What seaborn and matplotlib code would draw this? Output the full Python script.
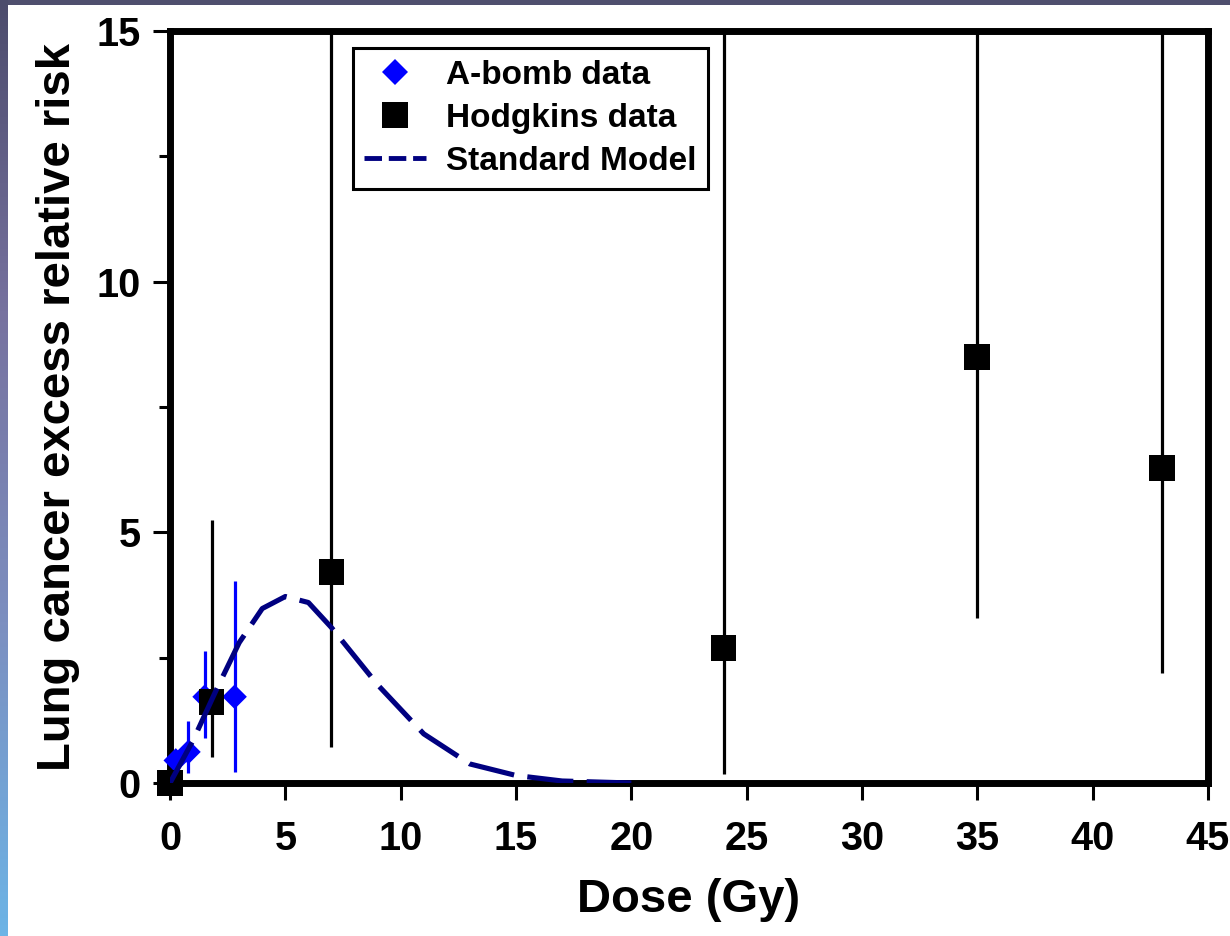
import numpy as np
import pandas as pd
import matplotlib
matplotlib.use("Agg")
import matplotlib.pyplot as plt
from matplotlib.lines import Line2D
from matplotlib.colors import LinearSegmentedColormap
import seaborn as sns

# A-bomb survivor data
abomb_dose = [0.0, 0.25, 0.8, 1.5, 2.8]
abomb_err = [0.0, 0.45, 0.62, 1.72, 1.72]
abomb_low = [0.0, 0.45, 0.2, 0.9, 0.22]
abomb_high = [0.0, 0.45, 1.24, 2.63, 4.02]

# Hodgkins disease patients
hodg_dose = [0.0, 1.8, 7.0, 24.0, 35.0, 43.0]
hodg_err = [0.0, 1.62, 4.21, 2.69, 8.5, 6.29]
hodg_low = [0.0, 0.52, 0.72, 0.18, 3.3, 2.2]
hodg_high = [0.0, 5.25, 22.0, 18.0, 20.0, 19.0]

# Standard model prediction
model_dose = [0, 1, 2, 3, 4, 5, 6, 7, 9, 11, 13, 15, 17, 20]
model_err = [0.0, 0.85, 1.85, 2.8, 3.48, 3.72, 3.6, 3.1, 1.96, 0.98, 0.38, 0.15, 0.04, 0.0]

x_ticks = [0, 5, 10, 15, 20, 25, 30, 35, 40, 45]
y_ticks = [0, 5, 10, 15]
y_minor = [2.5, 7.5, 12.5]

abomb = pd.DataFrame({"dose": abomb_dose, "err": abomb_err,
                      "low": abomb_low, "high": abomb_high})
hodg = pd.DataFrame({"dose": hodg_dose, "err": hodg_err,
                     "low": hodg_low, "high": hodg_high})
model = pd.DataFrame({"dose": model_dose, "err": model_err})

sns.set_theme(style="white")
plt.rcParams["font.family"] = ["Liberation Sans", "DejaVu Sans"]
plt.rcParams["font.weight"] = "bold"
plt.rcParams["text.color"] = "black"

fig = plt.figure(figsize=(12.3, 9.36), dpi=100)
fig.patch.set_facecolor("white")

# slide frame: dark band on top, gradient band on the left
top_band = fig.add_axes([0, 1 - 5 / 936, 1, 5 / 936])
top_band.set_axis_off()
top_band.add_patch(plt.Rectangle((0, 0), 1, 1, color="#4f4f6e", transform=top_band.transAxes))
left_band = fig.add_axes([0, 0, 8 / 1230, 1])
left_band.set_axis_off()
grad_cmap = LinearSegmentedColormap.from_list(
    "band", ["#4c4c6c", "#77729f", "#7c8fc0", "#6cb4e6"])
left_band.imshow(np.linspace(0, 1, 256).reshape(-1, 1), aspect="auto",
                 cmap=grad_cmap, extent=[0, 1, 1, 0])

ax = fig.add_axes([170 / 1230, 1 - 783 / 936, (1208 - 170) / 1230, (783 - 31) / 936])
ax.set_facecolor("white")

# error bars
ax.vlines(abomb["dose"], abomb["low"], abomb["high"], color="#0000ff", lw=2.3, zorder=2)
ax.vlines(hodg["dose"], hodg["low"], hodg["high"], color="black", lw=2.3, zorder=3)

sns.scatterplot(data=abomb, x="dose", y="err", marker="D", s=12.5 ** 2,
                color="#0000ff", edgecolor="none", linewidth=0, ax=ax,
                zorder=4, clip_on=False, legend=False)
sns.scatterplot(data=hodg, x="dose", y="err", marker="s", s=18.5 ** 2,
                color="black", edgecolor="none", linewidth=0, ax=ax,
                zorder=5, clip_on=False, legend=False)
sns.lineplot(data=model, x="dose", y="err", color="#000080", lw=3.7,
             linestyle=(0, (9.0, 2.6)), ax=ax, zorder=6, legend=False,
             errorbar=None, sort=False)

ax.set_xlim(0, 45)
ax.set_ylim(0, 15)
ax.set_xticks(x_ticks)
ax.set_xticklabels([str(t) for t in x_ticks])
ax.set_yticks(y_ticks)
ax.set_yticklabels([str(t) for t in y_ticks])
ax.set_yticks(y_minor, minor=True)

for side in ["left", "right", "top", "bottom"]:
    ax.spines[side].set_visible(True)
    ax.spines[side].set_color("black")
    ax.spines[side].set_linewidth(5)

ax.tick_params(axis="both", which="major", direction="out", length=12, width=2.2,
               color="black", labelsize=28.5, labelcolor="black")
ax.tick_params(axis="x", which="major", pad=15)
ax.tick_params(axis="y", which="major", pad=9)
ax.tick_params(axis="y", which="minor", direction="out", length=8, width=2.2,
               color="black", left=True)
ax.tick_params(axis="x", bottom=True, top=False)
ax.tick_params(axis="y", left=True, right=False)
for lab in ax.get_xticklabels() + ax.get_yticklabels():
    lab.set_fontweight("bold")

ax.set_xlabel("Dose (Gy)", fontsize=34, fontweight="bold", labelpad=14, color="black")
ax.set_ylabel("Lung cancer excess relative risk", fontsize=34, fontweight="bold",
              labelpad=12, color="black")

handles = [
    Line2D([], [], marker="D", color="#0000ff", ls="none", markersize=12.8, markeredgewidth=0),
    Line2D([], [], marker="s", color="black", ls="none", markersize=18.5, markeredgewidth=0),
    Line2D([], [], color="#000080", lw=3.5, ls=(0, (3.6, 1.4))),
]
labels = ["A-bomb data", "Hodgkins data", "Standard Model"]
leg = ax.legend(handles, labels, loc="upper left", bbox_to_anchor=(0.176, 0.977),
                borderaxespad=0, frameon=True, fancybox=False, framealpha=1,
                edgecolor="black", handlelength=1.85,
                handletextpad=0.6, borderpad=0.35, labelspacing=0.36,
                labelcolor="black", prop={"weight": "bold", "size": 24})
leg.get_frame().set_linewidth(2.2)

fig.savefig("out.png", dpi=100)
